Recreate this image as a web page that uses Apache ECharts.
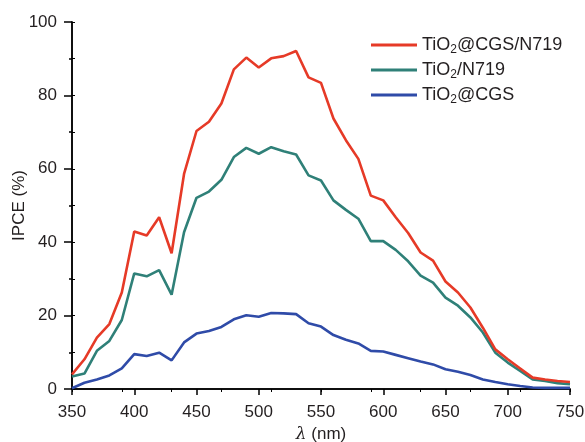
<!DOCTYPE html>
<html>
<head>
<meta charset="utf-8">
<script src="https://cdn.jsdelivr.net/npm/echarts@6/dist/echarts.min.js"></script>
<style>
  html, body { margin: 0; padding: 0; background: #fff; }
  #chart { width: 585px; height: 442px; }
</style>
</head>
<body>
<div id="chart"></div>
<script>
// wavelength (nm)
const wavelengths = [350, 360, 370, 380, 390, 400, 410, 420, 430, 440, 450, 460, 470, 480, 490,
  500, 510, 520, 530, 540, 550, 560, 570, 580, 590, 600, 610, 620, 630, 640,
  650, 660, 670, 680, 690, 700, 710, 720, 730, 740, 750];

// IPCE (%)
const cgsN719 = [4.0, 8.1, 14.0, 17.7, 26.3, 42.9, 41.8, 46.8, 37.0, 58.6, 70.3, 72.8, 77.8, 87.1, 90.3,
  87.6, 90.1, 90.7, 92.1, 84.9, 83.4, 73.7, 67.8, 62.7, 52.7, 51.4, 46.8, 42.5, 37.2, 35.0,
  29.3, 26.3, 22.2, 16.7, 10.8, 8.1, 5.6, 3.1, 2.6, 2.2, 1.9];
const tio2N719 = [3.4, 4.2, 10.4, 13.1, 18.8, 31.5, 30.7, 32.4, 25.7, 42.7, 52.1, 53.8, 57.0, 63.2, 65.7,
  64.1, 65.9, 64.8, 63.9, 58.2, 56.8, 51.4, 48.8, 46.4, 40.3, 40.3, 37.9, 34.8, 30.9, 29.0,
  24.9, 22.7, 19.5, 15.4, 9.9, 7.2, 4.9, 2.6, 2.2, 1.6, 1.3];
const tio2Cgs = [0.2, 1.7, 2.6, 3.7, 5.6, 9.5, 9.0, 9.9, 7.8, 12.7, 15.1, 15.8, 16.9, 19.0, 20.1,
  19.7, 20.7, 20.6, 20.4, 17.9, 17.0, 14.7, 13.4, 12.4, 10.4, 10.2, 9.3, 8.4, 7.5, 6.7,
  5.4, 4.7, 3.8, 2.6, 1.9, 1.3, 0.8, 0.4, 0.3, 0.3, 0.3];

const seriesNames = ['TiO2@CGS/N719', 'TiO2/N719', 'TiO2@CGS'];
const colors = ['#e63a27', '#2f8078', '#2f4ba8'];
const seriesData = [cgsN719, tio2N719, tio2Cgs];

const fontFamily = '"Liberation Sans", Arial, sans-serif';
const ink = '#231f20';

const chart = echarts.init(document.getElementById('chart'));

const option = {
  animation: false,
  backgroundColor: '#fff',
  textStyle: { fontFamily: fontFamily, color: ink },
  grid: { left: 72, right: 15, top: 22, bottom: 53, containLabel: false, outerBoundsMode: 'none' },
  legend: {
    orient: 'vertical',
    left: 366,
    top: 29,
    itemWidth: 46,
    itemHeight: 3,
    itemGap: 3,
    icon: 'rect',
    data: seriesNames,
    formatter: function (name) {
      return '{a|TiO}{s|2}{a|' + name.slice(4) + '}';
    },
    textStyle: {
      color: ink,
      fontFamily: fontFamily,
      rich: {
        a: { fontSize: 18, color: ink, fontFamily: fontFamily, lineHeight: 22 },
        s: { fontSize: 12, color: ink, fontFamily: fontFamily, verticalAlign: 'bottom', lineHeight: 22, padding: [10, 0, 0, 0] }
      }
    }
  },
  xAxis: [
    {
      type: 'value',
      min: 350,
      max: 750,
      interval: 50,
      position: 'bottom',
      name: '{i|λ} (nm)',
      nameLocation: 'middle',
      nameGap: 37,
      nameMoveOverlap: false,
      nameTextStyle: {
        fontSize: 17,
        color: ink,
        rich: {
          i: { fontStyle: 'italic', fontSize: 17, color: ink, fontFamily: '"DejaVu Serif", serif' }
        }
      },
      axisLine: { show: true, onZero: false, lineStyle: { color: '#000', width: 1.5 } },
      axisTick: { show: true, inside: false, length: 6, lineStyle: { color: '#000', width: 1.5 } },
      axisLabel: { fontSize: 17, color: ink, margin: 15 },
      splitLine: { show: false }
    },
    {
      type: 'value',
      min: 0,
      max: 10,
      interval: 1,
      position: 'top',
      axisLine: { show: true, lineStyle: { color: '#000', width: 1.5 } },
      axisTick: { show: true, inside: true, length: 3, lineStyle: { color: '#000', width: 1 } },
      axisLabel: { show: false },
      splitLine: { show: false }
    }
  ],
  yAxis: [
    {
      type: 'value',
      min: 0,
      max: 100,
      interval: 20,
      position: 'left',
      name: 'IPCE (%)',
      nameLocation: 'middle',
      nameGap: 44,
      nameMoveOverlap: false,
      nameTextStyle: { fontSize: 17, color: ink },
      axisLine: { show: true, onZero: false, lineStyle: { color: '#000', width: 1.5 } },
      axisTick: { show: true, inside: false, length: 8, lineStyle: { color: '#000', width: 1.5 } },
      minorTick: { show: true, splitNumber: 2, length: 3, lineStyle: { color: '#000', width: 1.5 } },
      axisLabel: { fontSize: 17, color: ink, margin: 15 },
      splitLine: { show: false }
    },
    {
      type: 'value',
      min: 0,
      max: 100,
      interval: 10,
      position: 'right',
      axisLine: { show: true, lineStyle: { color: '#000', width: 1.5 } },
      axisTick: { show: true, inside: false, length: 3, lineStyle: { color: '#000', width: 1 } },
      axisLabel: { show: false },
      splitLine: { show: false }
    }
  ],
  series: seriesNames.map(function (name, i) {
    return {
      name: name,
      type: 'line',
      xAxisIndex: 0,
      yAxisIndex: 0,
      showSymbol: false,
      symbol: 'none',
      color: colors[i],
      lineStyle: { color: colors[i], width: 2.6 },
      z: 10 - i,
      data: wavelengths.map(function (w, j) { return [w, seriesData[i][j]]; })
    };
  })
};

chart.setOption(option);
</script>
</body>
</html>
